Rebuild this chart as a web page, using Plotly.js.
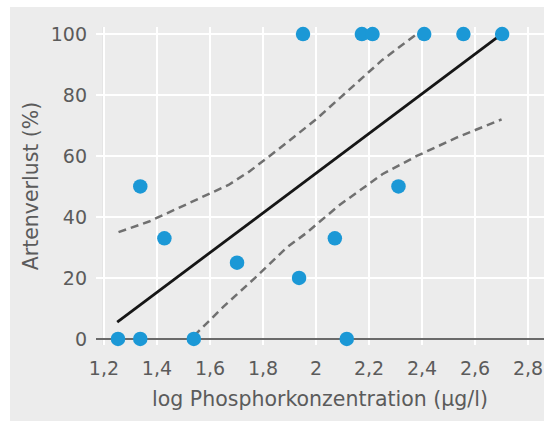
<!DOCTYPE html>
<html>
<head>
<meta charset="utf-8">
<script src="https://cdn.plot.ly/plotly-3.0.1.min.js"></script>
<style>
  html, body { margin: 0; padding: 0; background: #ffffff; }
  #chart { position: absolute; left: 10px; top: 7px; width: 534px; height: 414px; }
</style>
</head>
<body>
<div id="chart"></div>
<script>
// Data points: log phosphorus concentration vs. species loss (%)
const logP = [1.253, 1.337, 1.539, 2.116, 1.337, 1.428, 1.702, 1.936, 2.071, 2.311,
              1.951, 2.173, 2.213, 2.408, 2.556, 2.702];
const loss = [0, 0, 0, 0, 50, 33, 25, 20, 33, 50,
              100, 100, 100, 100, 100, 100];

// Regression line
const fitX = [1.25, 2.69];
const fitY = [5.5, 99.3];

// Upper confidence band
const upX = [1.255, 1.37, 1.52, 1.67, 1.75, 1.87, 2.0, 2.13, 2.25, 2.38];
const upY = [35, 38.5, 44.5, 50.5, 55, 63, 72, 82, 91.5, 100];

// Lower confidence band
const loX = [1.54, 1.65, 1.77, 1.89, 1.96, 2.09, 2.25, 2.38, 2.53, 2.70];
const loY = [1, 10.5, 20, 30, 34.5, 44, 54, 60, 66, 72];

const xTicks = [1.2, 1.4, 1.6, 1.8, 2.0, 2.2, 2.4, 2.6, 2.8];
const yTicks = [0, 20, 40, 60, 80, 100];

const bandStyle = {color: '#707070', width: 2.5, dash: '8px,5px'};

const traces = [
  {x: upX, y: upY, mode: 'lines', line: bandStyle, hoverinfo: 'skip'},
  {x: loX, y: loY, mode: 'lines', line: bandStyle, hoverinfo: 'skip'},
  {x: fitX, y: fitY, mode: 'lines', line: {color: '#161616', width: 2.8}},
  {x: logP, y: loss, mode: 'markers', cliponaxis: false,
   marker: {color: '#1b98d6', size: 14.5, line: {width: 0}}}
];

const family = 'DejaVu Sans, sans-serif';
const tickFont = {family: family, size: 19, color: '#5b5b5b'};
const titleFont = {family: family, size: 20.5, color: '#5b5b5b'};

const layout = {
  width: 534, height: 414,
  margin: {l: 86, r: 0, t: 20, b: 76},
  paper_bgcolor: '#ececec',
  plot_bgcolor: '#ececec',
  showlegend: false,
  separators: ',.',
  font: tickFont,
  xaxis: {
    range: [1.17, 2.86],
    tickvals: xTicks,
    showgrid: true, gridcolor: '#ffffff', gridwidth: 2,
    zeroline: false, showline: false, ticks: '',
    tickfont: tickFont,
    ticklabelstandoff: 10,
    title: {text: 'log Phosphorkonzentration (µg/l)', font: titleFont, standoff: 13}
  },
  yaxis: {
    range: [-2, 102.3],
    tickvals: yTicks,
    showgrid: true, gridcolor: '#ffffff', gridwidth: 2,
    zeroline: true, zerolinecolor: '#6a6a6a', zerolinewidth: 2,
    showline: false, ticks: '',
    tickfont: tickFont,
    ticklabelstandoff: 8,
    title: {text: 'Artenverlust (%)', font: titleFont, standoff: 6}
  },
  shapes: [
    {type: 'line', xref: 'x', yref: 'paper', x0: xTicks[0], x1: xTicks[0], y0: 0, y1: 1,
     line: {color: '#6a6a6a', width: 2}, layer: 'below'}
  ]
};

Plotly.newPlot('chart', traces, layout, {staticPlot: true, displayModeBar: false});
</script>
</body>
</html>
